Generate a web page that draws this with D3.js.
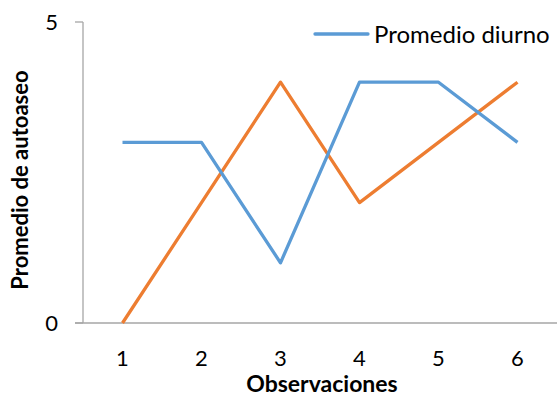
<!DOCTYPE html>
<html>
<head>
<meta charset="utf-8">
<script src="https://cdn.jsdelivr.net/npm/d3@7/dist/d3.min.js"></script>
<style>
  html, body { margin: 0; padding: 0; background: #fff; }
  svg text { font-family: Lato, "Open Sans", sans-serif; fill: #000; }
</style>
</head>
<body>
<svg id="chart" width="557" height="398"></svg>
<script>
const categories = ["1", "2", "3", "4", "5", "6"];
const diurno = [3, 3, 1, 4, 4, 3];
const segunda = [0, 2, 4, 2, 3, 4];
const yTicks = [0, 5];
const legendLabel = "Promedio diurno";

const svg = d3.select("#chart");
const plotLeft = 83, plotRight = 557, plotTop = 22, plotBottom = 323;

const x = d3.scaleBand().domain(categories).range([plotLeft, plotRight]);
const y = d3.scaleLinear().domain([0, 5]).range([plotBottom, plotTop]);
const cx = c => x(c) + x.bandwidth() / 2;

const axisColor = "#a6a6a6";

// y axis
svg.append("line").attr("x1", plotLeft).attr("x2", plotLeft).attr("y1", y(5)).attr("y2", y(0))
  .attr("stroke", axisColor).attr("stroke-width", 1.3);
yTicks.forEach(t => {
  svg.append("line").attr("x1", plotLeft - 8).attr("x2", plotLeft).attr("y1", y(t)).attr("y2", y(t))
    .attr("stroke", axisColor).attr("stroke-width", 1.3);
  svg.append("text").attr("x", 58).attr("y", y(t)).attr("dy", "0.36em")
    .attr("text-anchor", "end").style("font-size", "22px").text(t);
});

// x axis
svg.append("line").attr("x1", plotLeft - 8).attr("x2", plotRight).attr("y1", y(0)).attr("y2", y(0))
  .attr("stroke", axisColor).attr("stroke-width", 1.3);
categories.forEach(c => {
  svg.append("text").attr("x", cx(c)).attr("y", 358).attr("dy", "0.36em")
    .attr("text-anchor", "middle").style("font-size", "22px").text(c);
});

// axis titles
svg.append("text").attr("x", 322).attr("y", 384).attr("dy", "0.36em")
  .attr("text-anchor", "middle").style("font-size", "23px").style("font-weight", "bold")
  .text("Observaciones");
svg.append("text").attr("transform", "translate(20,180) rotate(-90)").attr("dy", "0.36em")
  .attr("text-anchor", "middle").style("font-size", "22px").style("font-weight", "bold")
  .text("Promedio de autoaseo");

// series lines
const line = d3.line().x((d, i) => cx(categories[i])).y(d => y(d));
svg.append("path").datum(segunda).attr("d", line).attr("fill", "none")
  .attr("stroke", "#ed7d31").attr("stroke-width", 3.3).attr("stroke-linejoin", "round");
svg.append("path").datum(diurno).attr("d", line).attr("fill", "none")
  .attr("stroke", "#5b9bd5").attr("stroke-width", 3.3).attr("stroke-linejoin", "round");

// legend
svg.append("line").attr("x1", 315).attr("x2", 368).attr("y1", 34).attr("y2", 34)
  .attr("stroke", "#5b9bd5").attr("stroke-width", 3.3).attr("stroke-linecap", "round");
svg.append("text").attr("x", 374).attr("y", 34).attr("dy", "0.36em")
  .style("font-size", "24px").text(legendLabel);
</script>
</body>
</html>
